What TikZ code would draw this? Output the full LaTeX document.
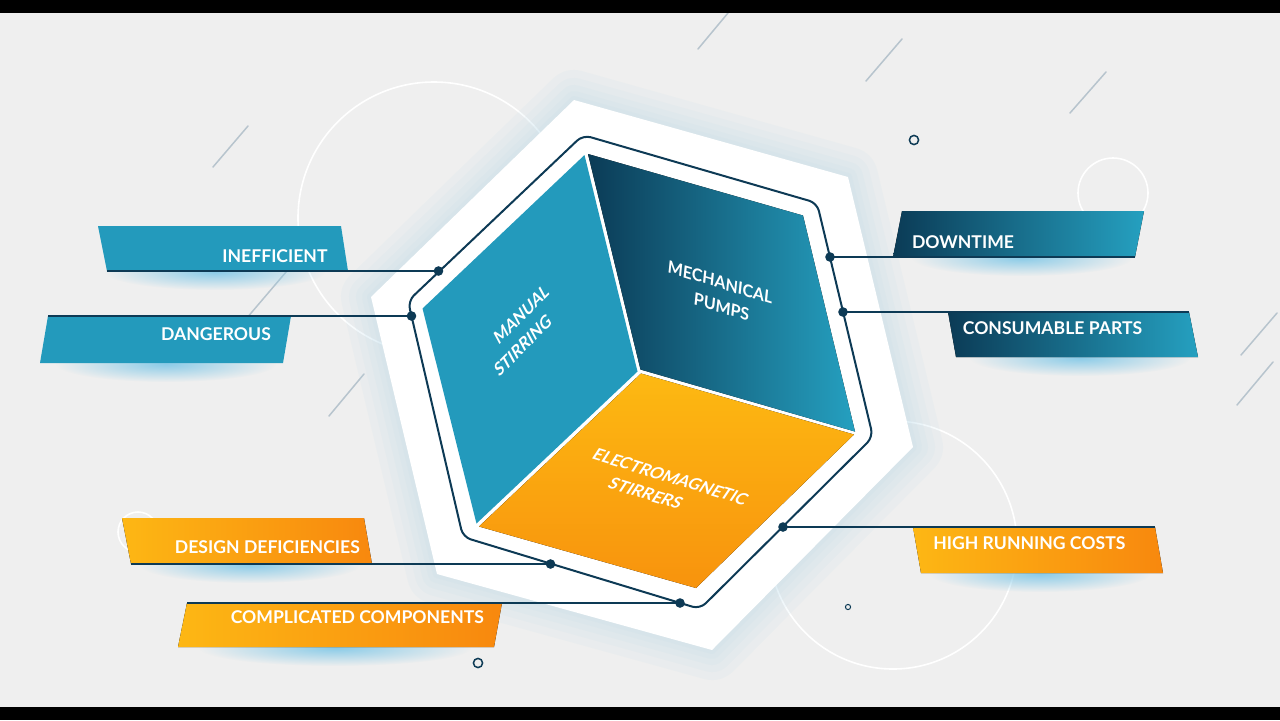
\documentclass[tikz,border=0pt]{standalone}
\usepackage{fontspec}
\setmainfont{Lato}
\usetikzlibrary{fadings}
\tikzfading[name=softspot, inner color=transparent!0, outer color=transparent!100]
\begin{document}
\begin{tikzpicture}[x=0.5pt,y=-0.5pt]
% palette
\definecolor{bg}{HTML}{EFEFEF}
\definecolor{navy}{HTML}{0D3A55}
\definecolor{teal}{HTML}{239ABC}
\definecolor{tealdark}{HTML}{0B3B56}
\definecolor{teallight}{HTML}{25A0C0}
\definecolor{ambertop}{HTML}{FDB912}
\definecolor{amberlow}{HTML}{F8930D}
\definecolor{orangeL}{HTML}{FDB714}
\definecolor{orangeR}{HTML}{F8880E}
\definecolor{decoline}{HTML}{B7C4CD}
\definecolor{glowblue}{HTML}{8CCCE8}
\definecolor{haze}{HTML}{B9DAEA}
\tikzset{
  deco line/.style={draw=decoline, line width=0.75pt, line cap=round},
  bg circle/.style={draw=white, line width=0.8pt},
  ring/.style={draw=navy, line width=0.75pt},
  link/.style={draw=navy, line width=1pt},
  dotnode/.style={circle, fill=navy, inner sep=0pt, minimum size=4.8pt},
  banner text/.style={text=white, inner sep=0pt, font=\bfseries\fontsize{8.8}{10}\selectfont},
  face text/.style={text=white, inner sep=0pt, align=center,
    font=\bfseries\fontsize{8.3}{11.5}\selectfont},
  banner glow/.style={fill=glowblue, path fading=softspot},
  teal banner/.style={fill=teal},
  navy banner/.style={left color=tealdark, right color=teallight},
  amber banner/.style={left color=orangeL, right color=orangeR},
}
\useasboundingbox (0,0) rectangle (1280,720);
\fill[bg] (0,0) rectangle (1280,720);

% background ornaments
\draw[bg circle] (434,218) circle[radius=68pt];
\draw[bg circle] (893,545) circle[radius=62pt];
\draw[bg circle] (1113,193) circle[radius=17.5pt];
\draw[bg circle] (138,532) circle[radius=10pt];
\draw[deco line] (728,13) -- (698,49);
\draw[deco line] (902,39) -- (866,81);
\draw[deco line] (1106,72) -- (1070,113);
\draw[deco line] (248,126) -- (213,167);
\draw[deco line] (292,265) -- (246,319);
\draw[deco line] (364,374) -- (329,416);
\draw[deco line] (1277,313) -- (1241,355);
\draw[deco line] (1273,362) -- (1237,405);
\draw[ring] (914,140) circle[radius=2.3pt];
\draw[ring] (478,663) circle[radius=2.3pt];
\draw[ring, line width=0.5pt] (848,607) circle[radius=1.3pt];

% soft glows under the banners
\fill[banner glow] (215,272) ellipse[x radius=55pt, y radius=9pt];
\fill[banner glow] (166,364) ellipse[x radius=55pt, y radius=9pt];
\fill[banner glow] (1022,258) ellipse[x radius=55pt, y radius=9pt];
\fill[banner glow] (1080,358) ellipse[x radius=55pt, y radius=9pt];
\fill[banner glow] (250,565) ellipse[x radius=55pt, y radius=9pt];
\fill[banner glow] (335,648) ellipse[x radius=68pt, y radius=9pt];
\fill[banner glow] (1040,574) ellipse[x radius=55pt, y radius=9pt];

% white hexagon plate with a soft halo, strongest on the right
\coordinate (w1) at (574,100);
\coordinate (w2) at (848,177);
\coordinate (w3) at (913,447);
\coordinate (w4) at (712,650);
\coordinate (w5) at (437,574);
\coordinate (w6) at (371,297);
\begin{scope}[shift={(6,5)}]
\foreach \lw in {30,22,15,9,4}
  \draw[haze, opacity=0.1, line width=\lw pt, line join=round]
    (w1) -- (w2) -- (w3) -- (w4) -- (w5) -- (w6) -- cycle;
\end{scope}
\fill[white] (w1) -- (w2) -- (w3) -- (w4) -- (w5) -- (w6) -- cycle;

% the three faces of the cube
\fill[teal] (584.5,155) -- (637.5,371.5) -- (476.5,523.5) -- (422.5,308.5) -- cycle;
\fill[left color=tealdark, right color=teallight]
  (588,154) -- (803,215.5) -- (855,431.5) -- (640.5,369.5) -- cycle;
\fill[top color=ambertop, bottom color=amberlow]
  (641,373.5) -- (854,434.5) -- (696,588) -- (479,526.5) -- cycle;

\node[face text, rotate=45, xslant=0.3] (manual) at (527,325)
  {MANUAL\\STIRRING\hspace*{14pt}};
\node[face text, rotate=-17, xslant=-0.2] (pumps) at (719,294)
  {MECHANICAL\\\hspace*{4pt}PUMPS};
\node[face text, rotate=-17, xslant=0.3] (stirrers) at (664,487)
  {ELECTROMAGNETIC\\STIRRERS\hspace*{12pt}};

% dark outline round the cube
\draw[navy, line width=1pt, rounded corners=4pt, line join=round]
  (583,135) -- (817,203) -- (873,437) -- (700,609) -- (463,537) -- (408,301) -- cycle;

% banners
\coordinate (ineff-tl) at (98,226);  \coordinate (ineff-tr) at (341,226);
\coordinate (ineff-br) at (348,271); \coordinate (ineff-bl) at (107,271);
\coordinate (dang-tl) at (48,316);   \coordinate (dang-tr) at (291,316);
\coordinate (dang-br) at (283,363);  \coordinate (dang-bl) at (40,363);
\coordinate (down-tl) at (902,211);  \coordinate (down-tr) at (1144,211);
\coordinate (down-br) at (1135,257); \coordinate (down-bl) at (893,257);
\coordinate (cons-tl) at (948,312);  \coordinate (cons-tr) at (1189,312);
\coordinate (cons-br) at (1198,357); \coordinate (cons-bl) at (956,357);
\coordinate (des-tl) at (122,518);   \coordinate (des-tr) at (364,518);
\coordinate (des-br) at (372,564);   \coordinate (des-bl) at (131,564);
\coordinate (comp-tl) at (187,603);  \coordinate (comp-tr) at (502,603);
\coordinate (comp-br) at (494,647);  \coordinate (comp-bl) at (178,647);
\coordinate (high-tl) at (913,527);  \coordinate (high-tr) at (1155,527);
\coordinate (high-br) at (1163,573); \coordinate (high-bl) at (921,573);

\fill[teal banner] (ineff-tl) -- (ineff-tr) -- (ineff-br) -- (ineff-bl) -- cycle;
\fill[teal banner] (dang-tl) -- (dang-tr) -- (dang-br) -- (dang-bl) -- cycle;
\fill[navy banner] (down-tl) -- (down-tr) -- (down-br) -- (down-bl) -- cycle;
\fill[navy banner] (cons-tl) -- (cons-tr) -- (cons-br) -- (cons-bl) -- cycle;
\fill[amber banner] (des-tl) -- (des-tr) -- (des-br) -- (des-bl) -- cycle;
\fill[amber banner] (comp-tl) -- (comp-tr) -- (comp-br) -- (comp-bl) -- cycle;
\fill[amber banner] (high-tl) -- (high-tr) -- (high-br) -- (high-bl) -- cycle;

\node[banner text] (t-ineff) at (275,256) {INEFFICIENT};
\node[banner text] (t-dang) at (216,334) {DANGEROUS};
\node[banner text] (t-down) at (963,241.7) {DOWNTIME};
\node[banner text] (t-cons) at (1052.5,328.3) {CONSUMABLE PARTS};
\node[banner text] (t-des) at (267.4,546.7) {DESIGN DEFICIENCIES};
\node[banner text] (t-comp) at (357.4,617.3) {COMPLICATED COMPONENTS};
\node[banner text] (t-high) at (1029.3,542.7) {HIGH RUNNING COSTS};

% junction dots on the outline and their leader lines
\node[dotnode] (d-ineff) at (438.5,271) {};
\node[dotnode] (d-dang) at (411.5,316) {};
\node[dotnode] (d-down) at (830,257) {};
\node[dotnode] (d-cons) at (843,312) {};
\node[dotnode] (d-des) at (550.5,564) {};
\node[dotnode] (d-comp) at (680,603) {};
\node[dotnode] (d-high) at (783,527) {};

\draw[link] (d-ineff.center) -- (ineff-bl);
\draw[link] (d-dang.center) -- (dang-tl);
\draw[link] (d-down.center) -- (down-br);
\draw[link] (d-cons.center) -- (cons-tr);
\draw[link] (d-des.center) -- (des-bl);
\draw[link] (d-comp.center) -- (comp-tl);
\draw[link] (d-high.center) -- (high-tr);

% letterbox bars
\fill[black] (0,0) rectangle (1280,13);
\fill[black] (0,707) rectangle (1280,720);
\end{tikzpicture}
\end{document}
